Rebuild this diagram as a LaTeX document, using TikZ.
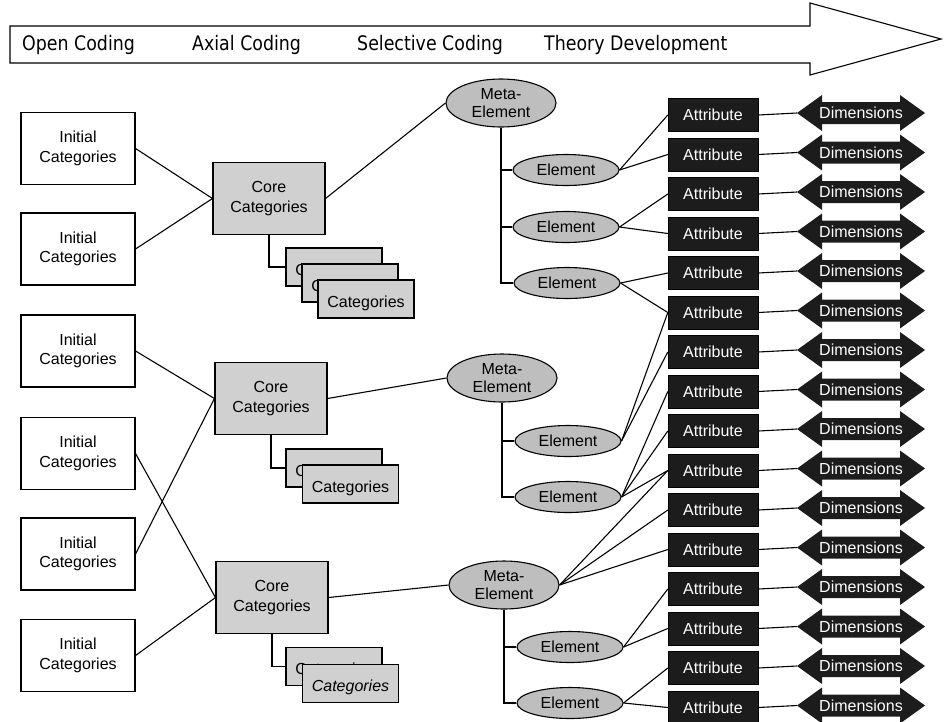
\documentclass[tikz,border=0pt]{standalone}
\usepackage{fontspec}
\setmainfont{Liberation Sans}
\newfontfamily\bandfont[FakeStretch=0.87]{DejaVu Sans}
\usetikzlibrary{shapes.geometric}

\definecolor{coregray}{HTML}{D0D0D0}
\definecolor{ellgray}{HTML}{BEBEBE}
\definecolor{attrblack}{HTML}{1C1C1C}

\tikzset{
  txt/.style={font=\fontsize{16}{19.5}\selectfont},
  initbox/.style={txt, draw, line width=1.1pt, fill=white, align=center,
    minimum width=114pt, minimum height=72pt, inner sep=0pt},
  corebox/.style={initbox, fill=coregray, minimum width=112pt},
  card/.style={txt, draw, line width=1.1pt, fill=coregray,
    minimum width=96pt, minimum height=38pt, inner sep=0pt,
    text height=20pt, text depth=3.4pt},
  meta/.style={font=\fontsize{16}{18}\selectfont, ellipse, draw, line width=1.1pt,
    fill=ellgray, align=center, minimum width=110pt, minimum height=48pt, inner sep=0pt},
  elem/.style={txt, ellipse, draw, line width=1.1pt, fill=ellgray,
    minimum width=106pt, minimum height=31pt, inner sep=0pt},
  attr/.style={txt, draw=black, fill=attrblack, text=white,
    minimum width=90pt, minimum height=33pt, inner sep=0pt},
  dimfill/.style={fill=attrblack},
  dimlabel/.style={txt, text=white, inner sep=0pt},
  band/.style={font=\bandfont\fontsize{20}{24}\selectfont, anchor=west, inner sep=0pt},
  link/.style={line width=1.1pt}
}

\begin{document}
\begin{tikzpicture}[x=1pt,y=-1pt]
\useasboundingbox (0,0) rectangle (944,721);

% process band arrow
\draw[line width=1.1pt, fill=white] (10,26) -- (810,26) -- (810,3) -- (941,39)
  -- (810,75) -- (810,63) -- (10,63) -- cycle;
\node[band] (t1) at (22,45) {Open Coding};
\node[band] (t2) at (192,45) {Axial Coding};
\node[band] (t3) at (357,45) {Selective Coding};
\node[band] (t4) at (544,45) {Theory Development};

% initial categories
\node[initbox] (i1) at (78,148.5) {Initial\\Categories};
\node[initbox] (i2) at (78,249) {Initial\\Categories};
\node[initbox] (i3) at (78,351) {Initial\\Categories};
\node[initbox] (i4) at (78,453.5) {Initial\\Categories};
\node[initbox] (i5) at (78,554) {Initial\\Categories};
\node[initbox] (i6) at (78,655.5) {Initial\\Categories};

% core categories
\node[corebox] (c1) at (269,198.5) {Core\\Categories};
\node[corebox] (c2) at (271,398.5) {Core\\Categories};
\node[corebox] (c3) at (272,597.5) {Core\\Categories};

% stacked sub-category cards
\node[card] (k11) at (334,267) {Categories};
\node[card] (k12) at (350,283) {Categories};
\node[card] (k13) at (366,299) {Categories};
\node[card] (k21) at (334,468) {Categories};
\node[card] (k22) at (350.5,484) {Categories};
\node[card] (k31) at (334,666.5) {Categories};
\node[card] (k32) at (350.5,683.5) {\itshape Categories};

% meta-elements and elements
\node[meta] (m1) at (501,103) {Meta-\\Element};
\node[meta] (m2) at (502,378) {Meta-\\Element};
\node[meta] (m3) at (504,585) {Meta-\\Element};

\node[elem] (e1) at (566,170) {Element};
\node[elem] (e2) at (566,227) {Element};
\node[elem] (e3) at (567,283) {Element};
\node[elem] (e4) at (568,441) {Element};
\node[elem] (e5) at (568,497) {Element};
\node[elem] (e6) at (570,647) {Element};
\node[elem] (e7) at (570,703) {Element};

% attributes with their dimension arrows
\foreach \i in {1,...,16}{
  \pgfmathsetmacro\ya{115+39.5*(\i-1)}
  \pgfmathsetmacro\yd{\ya-2}
  \node[attr] (a\i) at (713,\ya) {Attribute};
  \fill[dimfill] (797,\yd) -- (822,\yd-18) -- (822,\yd-11) -- (900,\yd-11)
    -- (900,\yd-18) -- (925,\yd) -- (900,\yd+18) -- (900,\yd+11)
    -- (822,\yd+11) -- (822,\yd+18) -- cycle;
  \node[dimlabel] (d\i) at (861,\yd) {Dimensions};
  \coordinate (dt\i) at (797,\yd);
  \draw[link] (a\i.east) -- (dt\i);
}

% initial -> core
\draw[link] (i1.east) -- (c1.west);
\draw[link] (i2.east) -- (c1.west);
\draw[link] (i3.east) -- (c2.west);
\draw[link] (i5.east) -- (c2.west);
\draw[link] (i4.east) -- (c3.west);
\draw[link] (i6.east) -- (c3.west);

% core -> cards
\draw[link] (c1.south) |- (k11.west);
\draw[link] (c2.south) |- (k21.west);
\draw[link] (c3.south) |- (k31.west);

% core -> meta-element
\draw[link] (c1.east) -- (m1.west);
\draw[link] (c2.east) -- (m2.west);
\draw[link] (c3.east) -- (m3.west);

% meta-element trees
\draw[link] (m1.south) |- (e1.west);
\draw[link] (m1.south) |- (e2.west);
\draw[link] (m1.south) |- (e3.west);
\draw[link] (m2.south) |- (e4.west);
\draw[link] (m2.south) |- (e5.west);
\draw[link] (m3.south) |- (e6.west);
\draw[link] (m3.south) |- (e7.west);

% elements -> attributes
\foreach \e/\a in {e1/a1, e1/a2, e2/a3, e2/a4, e3/a5, e3/a6, e4/a6, e4/a7,
  e5/a8, e5/a9, e5/a10, m3/a10, m3/a11, m3/a12, e6/a13, e6/a14, e7/a15, e7/a16}
  \draw[link] (\e.east) -- (\a.west);
\end{tikzpicture}
\end{document}
